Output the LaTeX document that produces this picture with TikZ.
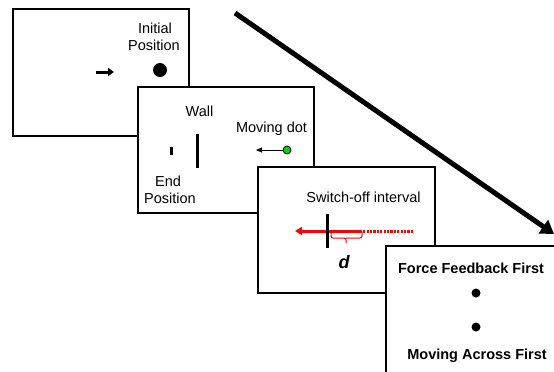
\documentclass[tikz,border=0pt]{standalone}
\usepackage{fontspec}
\setmainfont{Liberation Sans}
\usetikzlibrary{arrows.meta}
\begin{document}
\begin{tikzpicture}[x=1bp,y=-1bp,
  panel/.style={draw=black, line width=2bp, fill=white, anchor=north west, inner sep=0pt},
  lbl/.style={anchor=base, inner sep=0pt, font=\fontsize{14.5bp}{17bp}\selectfont},
  blbl/.style={lbl, font=\fontsize{14.5bp}{17bp}\selectfont\bfseries},
  bar/.style={line width=3bp, line cap=butt}
]
\useasboundingbox (0,0) rectangle (554,371);
\begin{scope}
\clip (0,0) rectangle (554,371);
% panel 1
\node[panel, minimum width=176bp, minimum height=127bp] (p1) at (12,8) {};
\node[lbl] (t1a) at (155,33) {Initial};
\node[lbl] (t1b) at (154,50) {Position};
\node[circle, fill=black, minimum size=14bp, inner sep=0pt] (bigdot) at (160,70) {};
\coordinate (a1s) at (96,72);
\coordinate (a1e) at (114,72);
\draw[line width=3bp, -{Triangle[length=6bp,width=8bp]}] (a1s) -- (a1e);
% panel 2
\node[panel, minimum width=176bp, minimum height=126bp] (p2) at (137,86) {};
\node[lbl] (wall) at (199.5,116) {Wall};
\coordinate (w1) at (197,134);
\coordinate (w2) at (197,168);
\draw[bar] (w1) -- (w2);
\coordinate (e1) at (171,147);
\coordinate (e2) at (171,155);
\draw[bar] (e1) -- (e2);
\node[lbl] (endt) at (168,186) {End};
\node[lbl] (endp) at (170,203) {Position};
\node[lbl] (mdot) at (271.5,132) {Moving dot};
\node[circle, draw=black, line width=0.8bp, fill=green!85!black, minimum size=8bp, inner sep=0pt] (gdot) at (287,150) {};
\coordinate (gtip) at (256,150);
\draw[line width=1bp, -{Triangle[length=6bp,width=5bp]}] (gdot.west) -- (gtip);
% panel 3
\node[panel, minimum width=177bp, minimum height=126bp] (p3) at (257,166) {};
\node[lbl] (sw) at (363.5,202) {Switch-off interval};
\coordinate (r0) at (413,231);
\coordinate (r1) at (362,231);
\coordinate (r2) at (295,231);
\draw[red, line width=3bp, dash pattern=on 2.2bp off 1.2bp] (r0) -- (r1);
\draw[red, line width=3bp, -{Triangle[length=7bp,width=8bp]}] (r1) -- (r2);
\coordinate (v1) at (327,214);
\coordinate (v2) at (327,248);
\draw[bar, black] (v1) -- (v2);
\coordinate (br1) at (331,232);
\coordinate (br2) at (362,232);
\draw[red, line width=1bp, rounded corners=2bp]
  (br1) -- (331,238) -- (346,238) -- (346,243) (346,238) -- (362,238) -- (br2);
\node[lbl, font=\fontsize{18bp}{20bp}\selectfont\bfseries\itshape] (dd) at (344,268) {d};
% panel 4
\node[panel, minimum width=200bp, minimum height=150bp] (p4) at (385,245) {};
\node[blbl] (ff) at (471,273) {Force Feedback First};
\node[circle, fill=black, minimum width=9bp, minimum height=8bp, inner sep=0pt] (d1) at (476,293) {};
\node[circle, fill=black, minimum width=9bp, minimum height=8bp, inner sep=0pt] (d2) at (476,327) {};
\node[blbl] (ma) at (477,359) {Moving Across First};
% big arrow
\coordinate (bs) at (235,13);
\coordinate (be) at (554,234);
\draw[line width=5bp, -{Triangle[length=13bp,width=16bp]}] (bs) -- (be);
\end{scope}
\end{tikzpicture}
\end{document}
